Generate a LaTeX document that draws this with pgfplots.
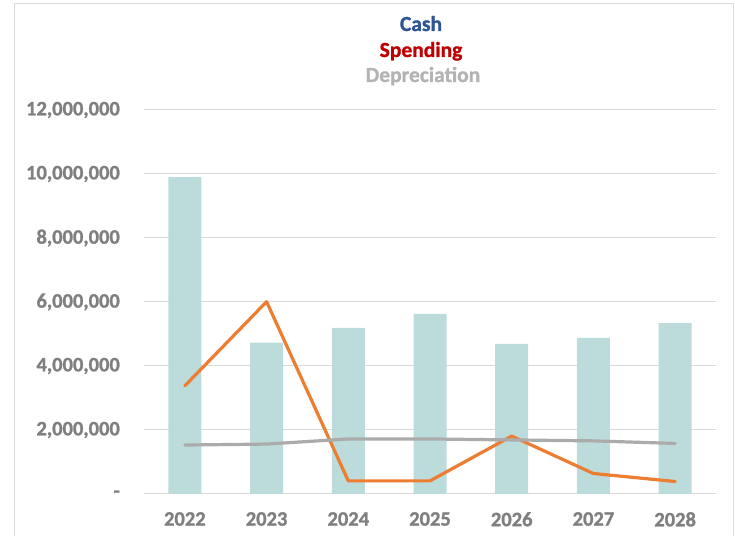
\documentclass[border=0pt]{standalone}
\usepackage{pgfplots}
\pgfplotsset{compat=1.18}
\usepackage{fontspec}
\setmainfont{Carlito}[BoldFeatures={FakeBold=1.2}]
\definecolor{barc}{HTML}{BCDCDB}
\definecolor{orangec}{HTML}{ED7D31}
\definecolor{grayc}{HTML}{ABABAB}
\definecolor{tickc}{HTML}{7F7F7F}
\definecolor{gridc}{HTML}{D9D9D9}
\definecolor{cashc}{HTML}{2F5597}
\definecolor{spendc}{HTML}{C00000}
\definecolor{deprc}{HTML}{B3B3B3}
\begin{document}
\begin{tikzpicture}[x=1bp,y=1bp]
\useasboundingbox (0,0) rectangle (735,536);
\clip (0,0) rectangle (735,536);
\draw[gridc, line width=1bp] (14,-20) rectangle (733,532);
\node[anchor=base, font=\fontsize{21.5bp}{24bp}\selectfont\bfseries, text=cashc, inner sep=0pt] at (421,505) {Cash};
\node[anchor=base, font=\fontsize{21.5bp}{24bp}\selectfont\bfseries, text=spendc, inner sep=0pt] at (421,479) {Spending};
\node[anchor=base, font=\fontsize{21.5bp}{24bp}\selectfont\bfseries, text=deprc, inner sep=0pt] at (423,454) {Depreciation};
\begin{axis}[
  at={(144bp,42bp)}, anchor=south west,
  scale only axis, width=572bp, height=384bp,
  xmin=-0.5, xmax=6.5, ymin=0, ymax=12000000,
  scaled y ticks=false,
  axis line style={draw=none},
  major tick length=0pt,
  ymajorgrids, grid style={gridc, line width=1bp},
  xtick={0,1,2,3,4,5,6},
  xticklabels={2022,2023,2024,2025,2026,2027,2028},
  ytick={0,2000000,4000000,6000000,8000000,10000000,12000000},
  yticklabels={-,{2,000,000},{4,000,000},{6,000,000},{8,000,000},{10,000,000},{12,000,000}},
  tick label style={font=\fontsize{20.5bp}{23bp}\selectfont\bfseries, text=tickc, inner sep=0pt},
  yticklabel style={anchor=east, xshift=-24bp},
  xticklabel style={anchor=north, yshift=-18bp},
  clip=false,
]
\addplot[ybar, bar width=33bp, fill=barc, draw=none] coordinates {
(0,9900000) (1,4730000) (2,5190000) (3,5630000) (4,4690000) (5,4880000) (6,5340000)};
\addplot[orangec, line width=3.2bp, mark=none, line join=round, line cap=round] coordinates {
(0,3380000) (1,6010000) (2,410000) (3,410000) (4,1810000) (5,640000) (6,390000)};
\addplot[grayc, line width=3.2bp, mark=none, line join=round, line cap=round] coordinates {
(0,1530000) (1,1560000) (2,1720000) (3,1720000) (4,1690000) (5,1660000) (6,1580000)};
\end{axis}
\end{tikzpicture}
\end{document}
